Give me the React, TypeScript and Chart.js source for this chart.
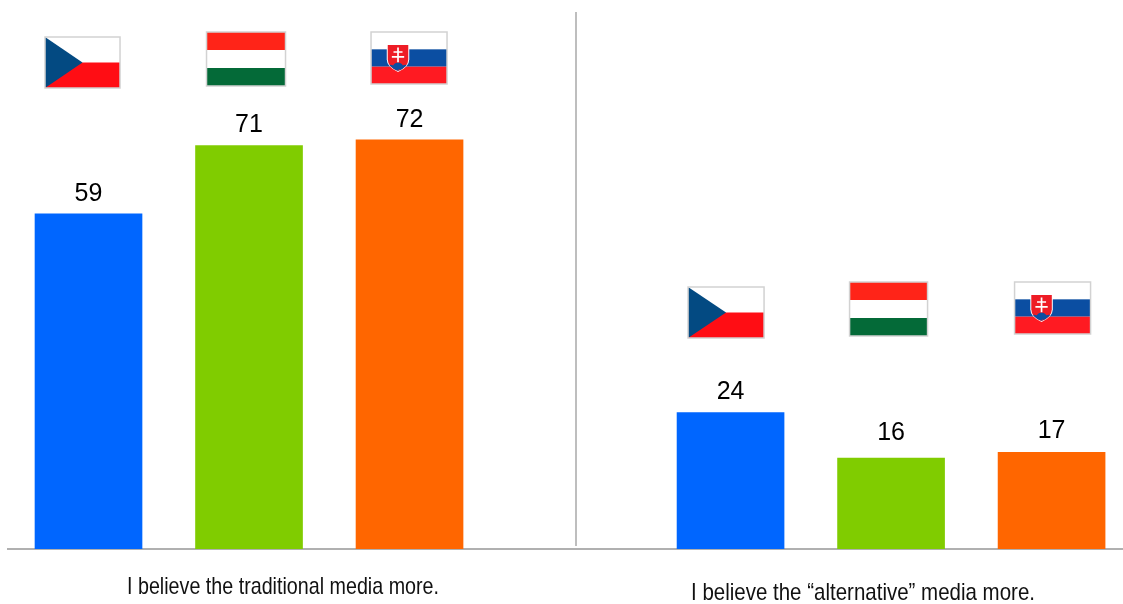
import { useEffect, useRef } from "react";
import { Chart, registerables } from "chart.js";

Chart.register(...registerables);

// Survey shares by country for each statement
const countries = ["CZ", "HU", "SK"];
const traditionalValues = [59, 71, 72];
const alternativeValues = [24, 16, 17];
const barColors = ["#0066ff", "#80cc00", "#ff6600"];
const captions = [
  "I believe the traditional media more.",
  "I believe the \u201calternative\u201d media more.",
];

// Horizontal slots: three bars, one empty slot, three bars
const slots = [0, 1, 2, 4, 5, 6];
const values = [...traditionalValues, ...alternativeValues];
const colors = [...barColors, ...barColors];
const flagCodes = [...countries, ...countries];

// Gap between each bar top and the centre of its value label
const labelGaps = [20, 20, 20, 21, 25, 21];

type Ctx = CanvasRenderingContext2D;

function drawCzech(c: Ctx, x: number, y: number, w: number, h: number) {
  c.fillStyle = "#ffffff";
  c.fillRect(x, y, w, h / 2);
  c.fillStyle = "#ff0d14";
  c.fillRect(x, y + h / 2, w, h / 2);
  c.fillStyle = "#034a82";
  c.beginPath();
  c.moveTo(x, y);
  c.lineTo(x + w / 2, y + h / 2);
  c.lineTo(x, y + h);
  c.closePath();
  c.fill();
}

function drawHungary(c: Ctx, x: number, y: number, w: number, h: number) {
  const band = h / 3;
  c.fillStyle = "#ff2418";
  c.fillRect(x, y, w, band);
  c.fillStyle = "#ffffff";
  c.fillRect(x, y + band, w, band);
  c.fillStyle = "#046a38";
  c.fillRect(x, y + 2 * band, w, band);
}

function drawSlovakia(c: Ctx, x: number, y: number, w: number, h: number) {
  const band = h / 3;
  c.fillStyle = "#ffffff";
  c.fillRect(x, y, w, band);
  c.fillStyle = "#0b4ea2";
  c.fillRect(x, y + band, w, band);
  c.fillStyle = "#ff1a22";
  c.fillRect(x, y + 2 * band, w, band);

  // Shield with double cross on a blue hill
  const sw = w * 0.27;
  const sh = h * 0.5;
  const sx = x + w * 0.22;
  const sy = y + h * 0.25;
  const shield = (grow: number) => {
    c.beginPath();
    c.moveTo(sx - grow, sy - grow);
    c.lineTo(sx + sw + grow, sy - grow);
    c.lineTo(sx + sw + grow, sy + sh * 0.55);
    c.quadraticCurveTo(sx + sw + grow, sy + sh * 0.85, sx + sw / 2, sy + sh + grow);
    c.quadraticCurveTo(sx - grow, sy + sh * 0.85, sx - grow, sy + sh * 0.55);
    c.closePath();
  };
  shield(1);
  c.fillStyle = "#ffffff";
  c.fill();
  shield(0);
  c.fillStyle = "#ee1c25";
  c.fill();
  c.save();
  shield(0);
  c.clip();
  c.fillStyle = "#0b4ea2";
  c.beginPath();
  c.arc(sx + sw / 2, sy + sh * 0.88, sw * 0.26, 0, Math.PI * 2);
  c.arc(sx + sw * 0.14, sy + sh * 0.98, sw * 0.28, 0, Math.PI * 2);
  c.arc(sx + sw * 0.86, sy + sh * 0.98, sw * 0.28, 0, Math.PI * 2);
  c.fill();
  c.restore();
  c.strokeStyle = "#ffffff";
  c.lineWidth = 1.7;
  const cx = sx + sw / 2;
  c.beginPath();
  c.moveTo(cx, sy + sh * 0.1);
  c.lineTo(cx, sy + sh * 0.66);
  c.moveTo(cx - sw * 0.22, sy + sh * 0.27);
  c.lineTo(cx + sw * 0.22, sy + sh * 0.27);
  c.moveTo(cx - sw * 0.3, sy + sh * 0.46);
  c.lineTo(cx + sw * 0.3, sy + sh * 0.46);
  c.stroke();
}

const flagPainters: Record<string, typeof drawCzech> = {
  CZ: drawCzech,
  HU: drawHungary,
  SK: drawSlovakia,
};

// Flag boxes, keyed by bar position: offset from the bar centre, top, width, height
const flagBoxes = [
  [-43.5, 37, 75, 51],
  [-42.5, 32, 79, 54],
  [-38.5, 32, 76, 52],
  [-42.5, 287, 76, 51],
  [-41.5, 282, 78, 54],
  [-37, 282, 76, 52],
];

const annotations = {
  id: "annotations",
  afterDatasetsDraw(chart: Chart) {
    const c = chart.ctx;
    const x = chart.scales.x;
    const y = chart.scales.y;
    c.save();

    // Panel divider
    c.strokeStyle = "#a9a9a9";
    c.lineWidth = 1.5;
    c.beginPath();
    c.moveTo(576, chart.chartArea.top);
    c.lineTo(576, chart.chartArea.bottom - 3);
    c.stroke();

    // Value labels above the bars
    c.fillStyle = "#000000";
    c.font = '25px "Liberation Sans"';
    c.textAlign = "center";
    c.textBaseline = "middle";
    values.forEach((v, i) => {
      c.fillText(String(v), x.getPixelForValue(slots[i]), y.getPixelForValue(v) - labelGaps[i]);
    });

    // Panel captions, slightly condensed
    c.font = '24px "Liberation Sans"';
    c.fillStyle = "#111111";
    const drawCaption = (text: string, cx: number, cy: number, width: number) => {
      const natural = c.measureText(text).width;
      c.save();
      c.translate(cx, cy);
      c.scale(width / natural, 1);
      c.fillText(text, 0, 0);
      c.restore();
    };
    drawCaption(captions[0], 283, 587, 312);
    drawCaption(captions[1], 863, 593, 344);

    // Country flags
    flagCodes.forEach((code, i) => {
      const [dx, top, w, h] = flagBoxes[i];
      const left = x.getPixelForValue(slots[i]) + dx;
      flagPainters[code](c, left, top, w, h);
      c.strokeStyle = "#d2d2d2";
      c.lineWidth = 1.5;
      c.strokeRect(left, top, w, h);
    });
    c.restore();
  },
};

export default function App() {
  const canvasRef = useRef<HTMLCanvasElement>(null);

  useEffect(() => {
    document.body.style.margin = "0";
    const chart = new Chart(canvasRef.current!, {
      type: "bar",
      data: {
        datasets: [
          {
            data: slots.map((slot, i) => ({ x: slot, y: values[i] })),
            backgroundColor: colors,
            barThickness: 107,
            borderWidth: 0,
          },
        ],
      },
      options: {
        animation: false,
        responsive: false,
        layout: { padding: { left: 8, top: 12, bottom: 47, right: 0 } },
        plugins: { legend: { display: false }, tooltip: { enabled: false } },
        scales: {
          x: {
            type: "linear",
            offset: false,
            min: -0.5016,
            max: 6.445,
            grid: { display: false },
            border: { display: true, color: "#b0b0b0", width: 2 },
            ticks: { display: false },
          },
          y: {
            min: 0,
            max: 94.5,
            display: false,
          },
        },
      },
      plugins: [annotations],
    });
    return () => chart.destroy();
  }, []);

  return <canvas ref={canvasRef} width={1123} height={604} style={{ display: "block" }} />;
}
